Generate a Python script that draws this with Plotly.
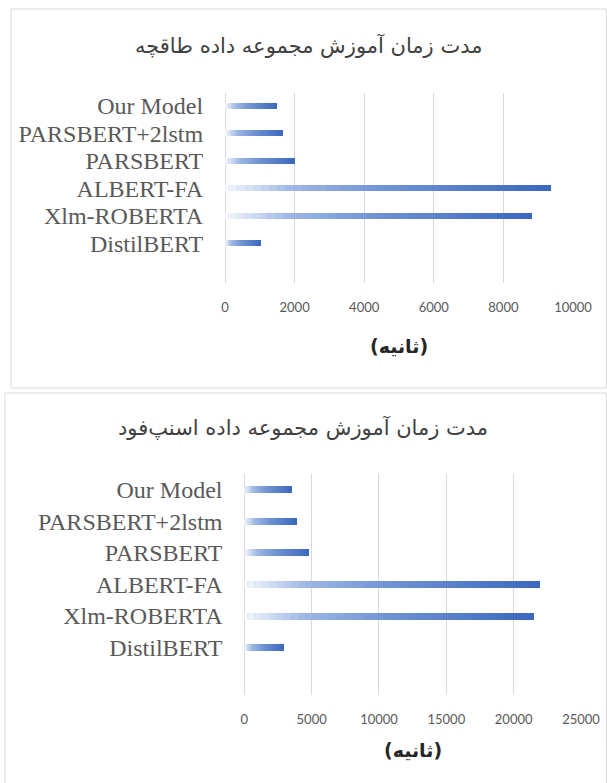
import plotly.graph_objects as go

# ---------------- data ----------------
models = ["Our Model", "PARSBERT+2lstm", "PARSBERT", "ALBERT-FA", "Xlm-ROBERTA", "DistilBERT"]
taaghche_seconds = [1500, 1680, 2000, 9370, 8820, 1030]
snappfood_seconds = [3600, 3900, 4850, 22000, 21550, 3000]
title_top = "مدت زمان آموزش مجموعه داده طاقچه"
title_bottom = "مدت زمان آموزش مجموعه داده اسنپ‌فود"
axis_title = "(ثانیه)"
ticks_top = [0, 2000, 4000, 6000, 8000, 10000]
ticks_bottom = [0, 5000, 10000, 15000, 20000, 25000]

# ---------------- styling ----------------
W, H = 607, 783
N_SEG = 40
STOPS = [(0.0, (252, 253, 255)), (0.22, (158, 184, 229)), (0.5, (112, 147, 211)), (1.0, (60, 104, 190))]


def grad_color(t):
    for (t0, c0), (t1, c1) in zip(STOPS[:-1], STOPS[1:]):
        if t <= t1:
            f = (t - t0) / (t1 - t0) if t1 > t0 else 0
            return "rgb(%d,%d,%d)" % tuple(round(a + (b - a) * f) for a, b in zip(c0, c1))
    return "rgb(%d,%d,%d)" % STOPS[-1][1]


def px_x(p):
    return p / W


def px_y(p):
    return 1 - p / H


fig = go.Figure()

panels = [
    dict(vals=taaghche_seconds, xa="x", ya="y", rng=[0, 10000], ticks=ticks_top,
         xdom=[px_x(225), px_x(573)], ydom=[px_y(283), px_y(93)]),
    dict(vals=snappfood_seconds, xa="x2", ya="y2", rng=[0, 25000], ticks=ticks_bottom,
         xdom=[px_x(244.3), px_x(581)], ydom=[px_y(695), px_y(474)]),
]

for p in panels:
    vals = p["vals"]
    for i in range(N_SEG):
        t = (i + 0.5) / N_SEG
        bases = [max(0.0, v * (i - 0.6) / N_SEG) for v in vals]
        lens = [v * (i + 1) / N_SEG - b for v, b in zip(vals, bases)]
        fig.add_trace(go.Bar(
            y=models,
            x=lens,
            base=bases,
            orientation="h",
            marker=dict(color=grad_color(t), line=dict(width=0)),
            width=0.22,
            xaxis=p["xa"], yaxis=p["ya"],
            showlegend=False, hoverinfo="skip",
        ))

cat_order = list(reversed(models))
common_x = dict(showgrid=True, gridcolor="#D9D9D9", gridwidth=1, zeroline=True, zerolinecolor="#D9D9D9",
                zerolinewidth=1, showline=False, ticks="outside", ticklen=12, tickcolor="rgba(0,0,0,0)",
                tickfont=dict(family="Lato", size=13, color="#595959"), fixedrange=True, automargin=False)
common_y = dict(type="category", categoryorder="array", categoryarray=cat_order, showgrid=False,
                zeroline=False, showline=False, ticks="outside", ticklen=16, tickcolor="rgba(0,0,0,0)",
                tickmode="array", tickvals=cat_order, ticktext=cat_order,
                tickfont=dict(family="Liberation Serif", size=24, color="#595959"), range=[-1.45, 5.47],
                fixedrange=True, automargin=False)

fig.update_layout(
    width=W, height=H, autosize=False, margin=dict(l=0, r=0, t=0, b=0, pad=0),
    paper_bgcolor="white", plot_bgcolor="white", barmode="overlay", bargap=0,
    xaxis=dict(common_x, domain=panels[0]["xdom"], range=panels[0]["rng"], tickvals=ticks_top,
               ticktext=[str(v) for v in ticks_top], anchor="y"),
    yaxis=dict(common_y, domain=panels[0]["ydom"], anchor="x"),
    xaxis2=dict(common_x, domain=panels[1]["xdom"], range=panels[1]["rng"], tickvals=ticks_bottom,
                ticktext=[str(v) for v in ticks_bottom], anchor="y2"),
    yaxis2=dict(common_y, domain=panels[1]["ydom"], anchor="x2", range=[-1.5, 5.5]),
)

# frames
fig.add_shape(type="rect", xref="paper", yref="paper", x0=px_x(11), x1=px_x(606.5), y0=px_y(388), y1=px_y(9),
              line=dict(color="#D9D9D9", width=1), fillcolor="rgba(0,0,0,0)", layer="below")
fig.add_shape(type="rect", xref="paper", yref="paper", x0=px_x(5), x1=px_x(606.5), y0=px_y(800), y1=px_y(393),
              line=dict(color="#D9D9D9", width=1), fillcolor="rgba(0,0,0,0)", layer="below")

title_font = dict(family="DejaVu Sans", size=21, color="#404040")
fig.add_annotation(text=title_top, xref="paper", yref="paper", x=px_x(308), y=px_y(45),
                   xanchor="center", yanchor="middle", showarrow=False, font=title_font)
fig.add_annotation(text=title_bottom, xref="paper", yref="paper", x=px_x(303), y=px_y(427),
                   xanchor="center", yanchor="middle", showarrow=False, font=title_font)

at_font = dict(family="DejaVu Sans", size=19, color="#262626")
fig.add_annotation(text="<b>%s</b>" % axis_title, xref="paper", yref="paper", x=px_x(399), y=px_y(346),
                   xanchor="center", yanchor="middle", showarrow=False, font=at_font)
fig.add_annotation(text="<b>%s</b>" % axis_title, xref="paper", yref="paper", x=px_x(413), y=px_y(750),
                   xanchor="center", yanchor="middle", showarrow=False, font=at_font)

fig.write_html("out.html", config={"displayModeBar": False, "responsive": False},
               post_script="document.body.style.margin='0';document.body.style.overflow='hidden';"
                           "document.documentElement.style.overflow='hidden';")
